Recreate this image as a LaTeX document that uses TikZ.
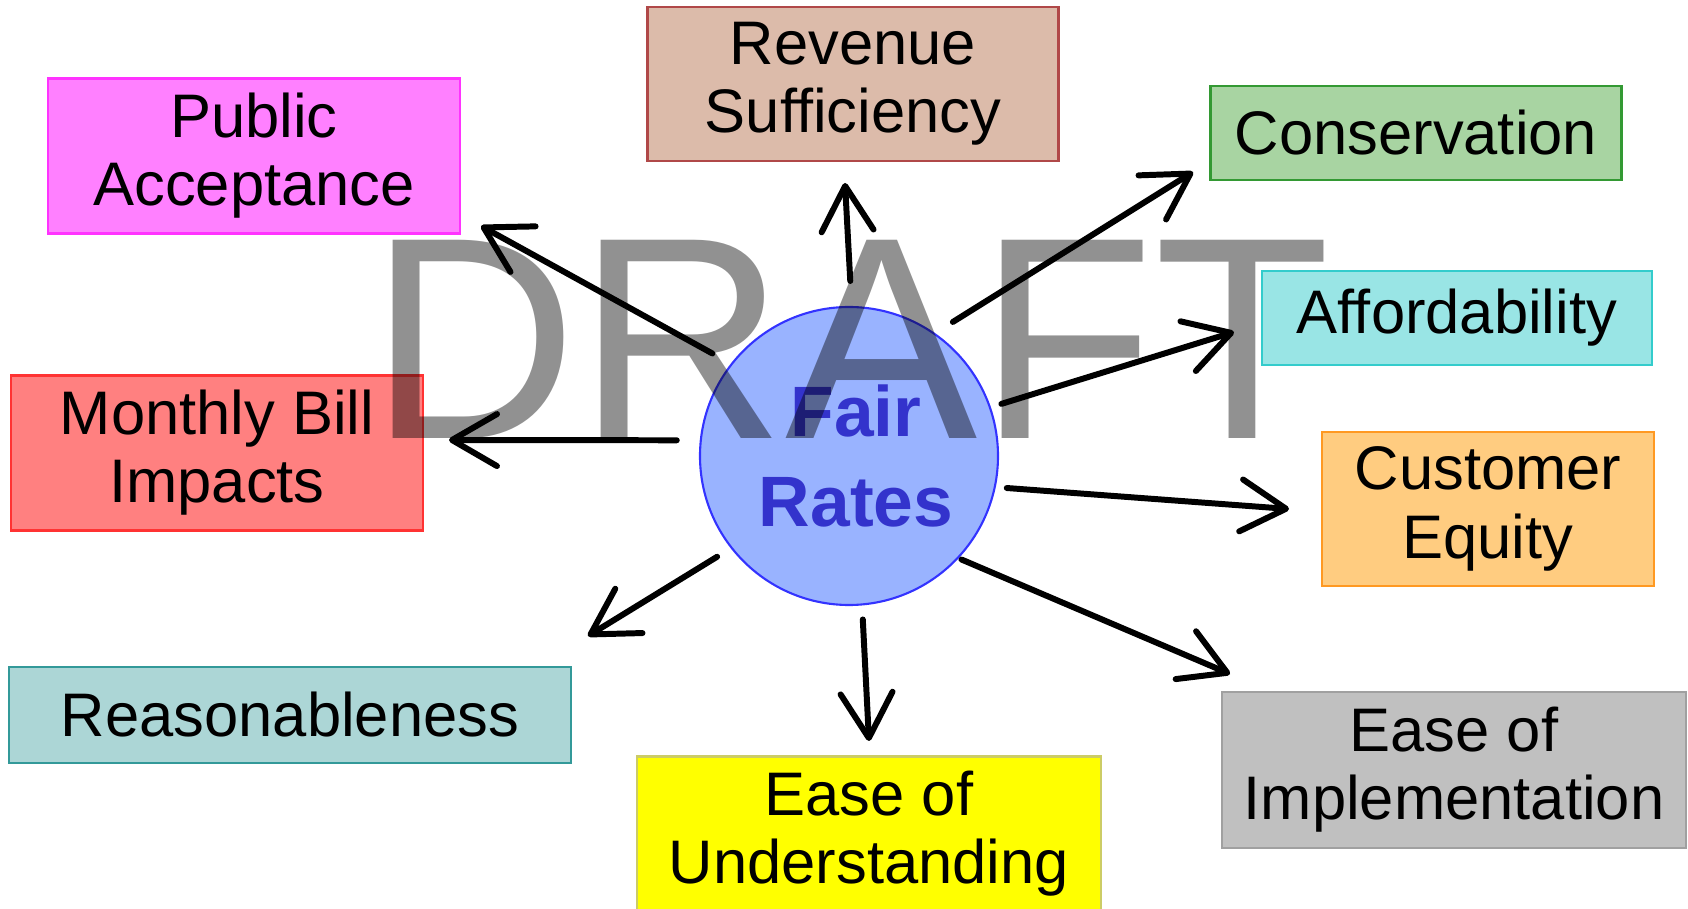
\documentclass[tikz,border=0pt]{standalone}
\usepackage{fontspec}
\setmainfont{Liberation Sans}
\usetikzlibrary{arrows.meta}

\definecolor{revfill}{HTML}{DCBBAA}
\definecolor{revline}{HTML}{B04848}
\definecolor{pubfill}{HTML}{FF80FF}
\definecolor{publine}{HTML}{FF33FF}
\definecolor{consfill}{HTML}{A8D4A2}
\definecolor{consline}{HTML}{339933}
\definecolor{afffill}{HTML}{99E5E5}
\definecolor{affline}{HTML}{33CCCC}
\definecolor{monfill}{HTML}{FF8080}
\definecolor{monline}{HTML}{FF3333}
\definecolor{custfill}{HTML}{FFCC80}
\definecolor{custline}{HTML}{FF9922}
\definecolor{reasfill}{HTML}{ACD6D6}
\definecolor{reasline}{HTML}{339999}
\definecolor{undfill}{HTML}{FFFF00}
\definecolor{undline}{HTML}{CCCC66}
\definecolor{implfill}{HTML}{C0C0C0}
\definecolor{implline}{HTML}{A0A0A0}
\definecolor{frfill}{HTML}{99B3FF}
\definecolor{frline}{HTML}{3333FF}
\definecolor{frtext}{HTML}{3333CC}

\begin{document}
\begin{tikzpicture}[box/.style={rectangle, draw, line width=0.6pt, align=center, inner sep=0pt,
                      font=\fontsize{17.5}{19.4}\selectfont},
                    arr/.style={line width=1.7pt, line cap=round, -{Straight Barb[length=4.5mm, width=5.2mm, round]}}]
    \useasboundingbox (0,0) rectangle (16.88,9.09);

    \node[box, fill=revfill, draw=revline, minimum width=4.11cm, minimum height=1.54cm] (rev) at (8.53, 8.25) {Revenue\\Sufficiency};
    \node[box, fill=pubfill, draw=publine, minimum width=4.12cm, minimum height=1.55cm] (pub) at (2.54, 7.53) {Public\\Acceptance};
    \node[box, fill=consfill, draw=consline, minimum width=4.11cm, minimum height=0.94cm] (cons) at (14.16, 7.76) {Conservation};
    \node[box, fill=afffill, draw=affline, minimum width=3.90cm, minimum height=0.94cm] (aff) at (14.57, 5.91) {Affordability};
    \node[box, fill=monfill, draw=monline, minimum width=4.12cm, minimum height=1.55cm] (mon) at (2.17, 4.56) {Monthly Bill\\Impacts};
    \node[box, fill=custfill, draw=custline, minimum width=3.32cm, minimum height=1.54cm] (cust) at (14.88, 4.00) {Customer\\Equity};
    \node[box, fill=reasfill, draw=reasline, minimum width=5.62cm, minimum height=0.96cm] (reas) at (2.90, 1.94) {Reasonableness};
    \node[box, fill=undfill, draw=undline, minimum width=4.64cm, minimum height=1.55cm] (und) at (8.69, 0.75) {Ease of\\Understanding};
    \node[box, fill=implfill, draw=implline, minimum width=4.64cm, minimum height=1.56cm] (impl) at (14.54, 1.39) {Ease of\\Implementation};

    \node[circle, fill=frfill, draw=frline, line width=0.6pt, minimum size=2.98cm, inner sep=0pt, align=center,
          text=frtext, font=\fontsize{20.3}{25.6}\selectfont\bfseries] (fr) at (8.49, 4.53) {\hspace{0.14cm}Fair\\\hspace{0.14cm}Rates};

    % watermark
    \node[anchor=base west, inner sep=0pt, text=black, text opacity=0.43,
          font=\fontsize{82}{90}\selectfont] (draft) at (3.69, 4.70) {DRAFT};

    \coordinate (h1) at (4.81, 6.83);
    \coordinate (h2) at (8.45, 7.26);
    \coordinate (h3) at (11.93, 7.37);
    \coordinate (h4) at (12.34, 5.77);
    \coordinate (h5) at (12.89, 4.00);
    \coordinate (h6) at (12.30, 2.35);
    \coordinate (h7) at (8.69, 1.68);
    \coordinate (h8) at (5.88, 2.73);
    \coordinate (h9) at (4.49, 4.69);

    \draw[arr, shorten <=0.21cm] (fr.142.4) -- (h1);
    \draw[arr, shorten <=0.25cm] (fr.89.6) -- (h2);
    \draw[arr, shorten <=0.21cm] (fr.55) -- (h3);
    \draw[arr, shorten <=0.11cm] (fr.19.2) -- (h4);
    \draw[arr, shorten <=0.11cm] (fr.-12.9) -- (h5);
    \draw[arr, shorten <=0.03cm] (fr.-43.6) -- (h6);
    \draw[arr, shorten <=0.14cm] (fr.-85.7) -- (h7);
    \draw[arr, shorten <=0.16cm] (fr.-142.6) -- (h8);
    \draw[arr, shorten <=0.23cm] (fr.174.5) -- (h9);
\end{tikzpicture}
\end{document}
